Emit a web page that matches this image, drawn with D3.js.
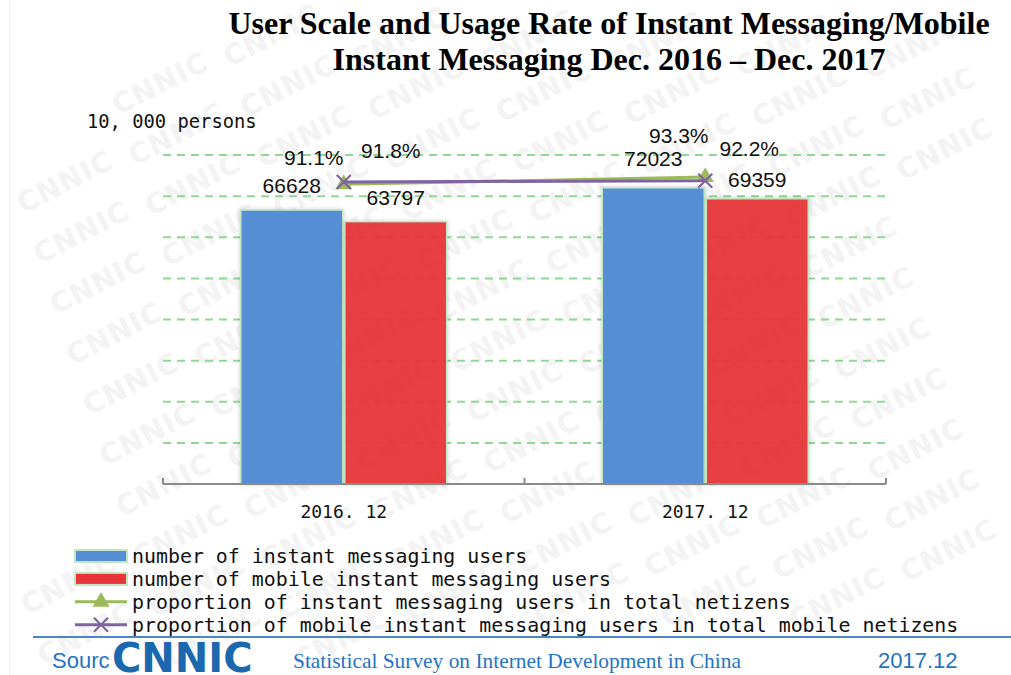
<!DOCTYPE html>
<html>
<head>
<meta charset="utf-8">
<script src="https://cdn.jsdelivr.net/npm/d3@7"></script>
<style>
  html, body { margin: 0; padding: 0; background: #fff; }
  svg { display: block; }
</style>
</head>
<body>
<svg id="chart" width="1011" height="675"></svg>
<script>
// ---- data -------------------------------------------------------------
const categories = ["2016. 12", "2017. 12"];
const imUsers = [66628, 72023];          // 10,000 persons
const mobileImUsers = [63797, 69359];    // 10,000 persons
const imRate = [0.911, 0.933];           // share of all netizens
const mobileImRate = [0.918, 0.922];     // share of mobile netizens
const yTicks = [10000, 20000, 30000, 40000, 50000, 60000, 70000, 80000];
const titleLines = [
  "User Scale and Usage Rate of Instant Messaging/Mobile",
  "Instant Messaging Dec. 2016 \u2013 Dec. 2017"
];
const unitLabel = "10, 000 persons";
const legendLabels = [
  "number of instant messaging users",
  "number of mobile instant messaging users",
  "proportion of instant messaging users in total netizens",
  "proportion of mobile instant messaging users in total mobile netizens"
];
const footerSource = "Sourc";
const footerBrand = "CNNIC";
const footerSurvey = "Statistical Survey on Internet Development in China";
const footerDate = "2017.12";

// ---- layout -----------------------------------------------------------
const W = 1011, H = 675;
const plot = { left: 163, right: 886, top: 155, bottom: 484 };
const colors = {
  blue: "#558ed5", red: "#e8353a", green: "#9bbb59", purple: "#8064a2",
  grid: "#8fd896", barEdge: "#c2e6c2", axis: "#8a8a8a", footer: "#1f74c4"
};

const svg = d3.select("#chart");
const defs = svg.append("defs");
const shadow = defs.append("filter").attr("id", "barShadow")
  .attr("x", "-10%").attr("y", "-10%").attr("width", "120%").attr("height", "120%");
shadow.append("feDropShadow").attr("dx", 0).attr("dy", 0)
  .attr("stdDeviation", 2).attr("flood-color", "#000").attr("flood-opacity", 0.2);

svg.append("rect").attr("width", W).attr("height", H).attr("fill", "#fff");

// faint slide edge on the left
svg.append("line").attr("x1", 9.5).attr("x2", 9.5).attr("y1", 0).attr("y2", H)
  .attr("stroke", "#efefef").attr("stroke-width", 1);

// ---- watermark tiling (kept fully inside the page) ----------------------
const wm = svg.append("g").attr("class", "watermark");
const stepA = [16.5, 50.5], stepB = [128, 2.5], origin = [65, 182];
const wmPts = [];
for (let m = -3; m <= 9; m++) {
  for (let k = -6; k <= 12; k++) {
    const px = origin[0] + m * stepB[0] + k * stepA[0];
    const py = origin[1] + m * stepB[1] + k * stepA[1];
    if (px > 58 && px < W - 58 && py > 34 && py < H - 34) wmPts.push([px, py]);
  }
}
wm.selectAll("text").data(wmPts).join("text")
  .attr("transform", d => `translate(${d[0]},${d[1]}) rotate(-27)`)
  .attr("text-anchor", "middle").attr("dominant-baseline", "central")
  .attr("font-family", "DejaVu Sans").attr("font-weight", "bold")
  .attr("font-size", 28).attr("letter-spacing", 1)
  .attr("fill", "#f3f3f3")
  .text(footerBrand);

// ---- scales -----------------------------------------------------------
const x = d3.scaleBand().domain(categories).range([plot.left, plot.right]);
const sub = d3.scaleBand().domain(["im", "mobile"]).range([0, x.bandwidth()])
  .paddingInner(0.02).paddingOuter(0.748);
const y = d3.scaleLinear().domain([0, 80000]).range([plot.bottom, plot.top]);
const y2 = d3.scaleLinear().domain([0, 1]).range([plot.bottom, plot.top]);

// ---- gridlines --------------------------------------------------------
svg.append("g").attr("class", "grid")
  .selectAll("line").data(yTicks).join("line")
  .attr("x1", plot.left).attr("x2", plot.right)
  .attr("y1", d => y(d)).attr("y2", d => y(d))
  .attr("stroke", colors.grid).attr("stroke-width", 2)
  .attr("stroke-dasharray", "8,6");

// ---- bars -------------------------------------------------------------
const barData = [];
categories.forEach((c, i) => {
  barData.push({ cat: c, key: "im", value: imUsers[i], fill: colors.blue, opacity: 1 });
  barData.push({ cat: c, key: "mobile", value: mobileImUsers[i], fill: colors.red, opacity: 0.95 });
});
svg.append("g").attr("class", "bars")
  .selectAll("rect").data(barData).join("rect")
  .attr("x", d => x(d.cat) + sub(d.key))
  .attr("y", d => y(d.value))
  .attr("width", sub.bandwidth())
  .attr("height", d => y(0) - y(d.value))
  .attr("fill", d => d.fill)
  .attr("fill-opacity", d => d.opacity)
  .attr("stroke", colors.barEdge).attr("stroke-width", 1.5)
  .attr("filter", "url(#barShadow)");

// ---- category axis ----------------------------------------------------
const axisG = svg.append("g").attr("transform", `translate(0,${plot.bottom})`);
axisG.append("line").attr("x1", plot.left).attr("x2", plot.right)
  .attr("stroke", colors.axis).attr("stroke-width", 2);
const tickXs = [plot.left, ...categories.map(c => x(c) + x.bandwidth())];
axisG.selectAll("line.tick").data(tickXs).join("line").attr("class", "tick")
  .attr("x1", d => d).attr("x2", d => d).attr("y1", -6).attr("y2", 0)
  .attr("stroke", colors.axis).attr("stroke-width", 2);
axisG.selectAll("text").data(categories).join("text")
  .attr("x", d => x(d) + x.bandwidth() / 2).attr("y", 34)
  .attr("text-anchor", "middle")
  .attr("font-family", "DejaVu Sans Mono").attr("font-size", 18)
  .attr("fill", "#111").text(d => d);

// ---- bar value labels --------------------------------------------------
const barLift = { im: [17, 22], mobile: [16.6, 12] };
svg.append("g").attr("class", "bar-labels")
  .selectAll("text").data(barData).join("text")
  .attr("x", d => x(d.cat) + sub(d.key) + sub.bandwidth() / 2)
  .attr("y", d => y(d.value) - barLift[d.key][categories.indexOf(d.cat)])
  .attr("text-anchor", "middle")
  .attr("font-family", "Liberation Sans, Arial, sans-serif").attr("font-size", 21)
  .attr("fill", "#111").text(d => d3.format("d")(d.value));

// ---- rate lines -------------------------------------------------------
const cx = c => x(c) + x.bandwidth() / 2;
const lineGen = d3.line().x(d => cx(d.cat)).y(d => y2(d.value));
const rateSeries = [
  { key: "im", values: imRate, color: colors.green, marker: "triangle",
    offsets: [[-30, -19], [-26.5, -34]] },
  { key: "mobile", values: mobileImRate, color: colors.purple, marker: "cross",
    offsets: [[47, -24], [44, -25]] }
];
const triPath = d3.symbol().type(d3.symbolTriangle).size(125)();
const crossPath = "M-7,-7L7,7M-7,7L7,-7";

rateSeries.forEach(s => {
  const pts = categories.map((c, i) => ({ cat: c, value: s.values[i] }));
  const g = svg.append("g").attr("class", "rate-" + s.key);
  g.append("path").datum(pts).attr("d", lineGen)
    .attr("fill", "none").attr("stroke", s.color).attr("stroke-width", 3);
  g.selectAll("path.marker").data(pts).join("path").attr("class", "marker")
    .attr("transform", d => `translate(${cx(d.cat)},${y2(d.value)})`)
    .attr("d", s.marker === "triangle" ? triPath : crossPath)
    .attr("fill", s.marker === "triangle" ? s.color : "none")
    .attr("stroke", s.color).attr("stroke-width", s.marker === "triangle" ? 0 : 2.2);
});
rateSeries.forEach(s => {
  const pts = categories.map((c, i) => ({ cat: c, value: s.values[i], off: s.offsets[i] }));
  svg.append("g").selectAll("text").data(pts).join("text")
    .attr("x", d => cx(d.cat) + d.off[0])
    .attr("y", d => y2(d.value) + d.off[1])
    .attr("text-anchor", "middle")
    .attr("font-family", "Liberation Sans, Arial, sans-serif").attr("font-size", 21)
    .attr("fill", "#111").text(d => d3.format(".1%")(d.value));
});

// ---- title & unit ------------------------------------------------------
svg.append("g").selectAll("text").data(titleLines).join("text")
  .attr("x", 609).attr("y", (d, i) => 34 + i * 35.5)
  .attr("text-anchor", "middle")
  .attr("font-family", "Liberation Serif, Times New Roman, serif")
  .attr("font-weight", "bold").attr("font-size", 32)
  .attr("fill", "#000").text(d => d);

svg.append("text").attr("x", 87).attr("y", 128)
  .attr("font-family", "DejaVu Sans Mono").attr("font-size", 18.8)
  .attr("fill", "#111").text(unitLabel);

// ---- legend -----------------------------------------------------------
const legend = svg.append("g").attr("class", "legend");
const legendItems = legendLabels.map((t, i) => ({
  text: t, i,
  kind: i < 2 ? "rect" : "line",
  color: [colors.blue, colors.red, colors.green, colors.purple][i],
  marker: i === 2 ? "triangle" : i === 3 ? "cross" : null
}));
const legendRow = i => 563 + i * 22.9;
legendItems.forEach(d => {
  const cy = legendRow(d.i) - 7;
  if (d.kind === "rect") {
    legend.append("rect").attr("x", 75).attr("y", cy - 6).attr("width", 52).attr("height", 12)
      .attr("fill", d.color).attr("stroke", colors.barEdge).attr("stroke-width", 2);
  } else {
    legend.append("line").attr("x1", 75).attr("x2", 127).attr("y1", cy).attr("y2", cy)
      .attr("stroke", d.color).attr("stroke-width", 3);
    legend.append("path").attr("transform", `translate(101,${cy})`)
      .attr("d", d.marker === "triangle" ? triPath : crossPath)
      .attr("fill", d.marker === "triangle" ? d.color : "none")
      .attr("stroke", d.color).attr("stroke-width", d.marker === "triangle" ? 0 : 2.2);
  }
  legend.append("text").attr("x", 132).attr("y", legendRow(d.i))
    .attr("font-family", "DejaVu Sans Mono").attr("font-size", 19.9)
    .attr("fill", "#111").text(d.text);
});

// ---- footer -----------------------------------------------------------
svg.append("line").attr("x1", 33).attr("x2", W).attr("y1", 637).attr("y2", 637)
  .attr("stroke", "#4a86cc").attr("stroke-width", 2);
svg.append("text").attr("x", 52).attr("y", 668)
  .attr("font-family", "Liberation Sans, Arial, sans-serif").attr("font-size", 22)
  .attr("fill", colors.footer).text(footerSource);
svg.append("text").attr("x", 112).attr("y", 672)
  .attr("font-family", "DejaVu Sans").attr("font-weight", "bold").attr("font-size", 40)
  .attr("fill", "#1b68ae").text(footerBrand);
svg.append("text").attr("x", 293).attr("y", 668)
  .attr("font-family", "Liberation Serif, Times New Roman, serif").attr("font-size", 21.4)
  .attr("fill", colors.footer).text(footerSurvey);
svg.append("text").attr("x", 878).attr("y", 668)
  .attr("font-family", "Liberation Sans, Arial, sans-serif").attr("font-size", 22)
  .attr("fill", colors.footer).text(footerDate);
</script>
</body>
</html>
